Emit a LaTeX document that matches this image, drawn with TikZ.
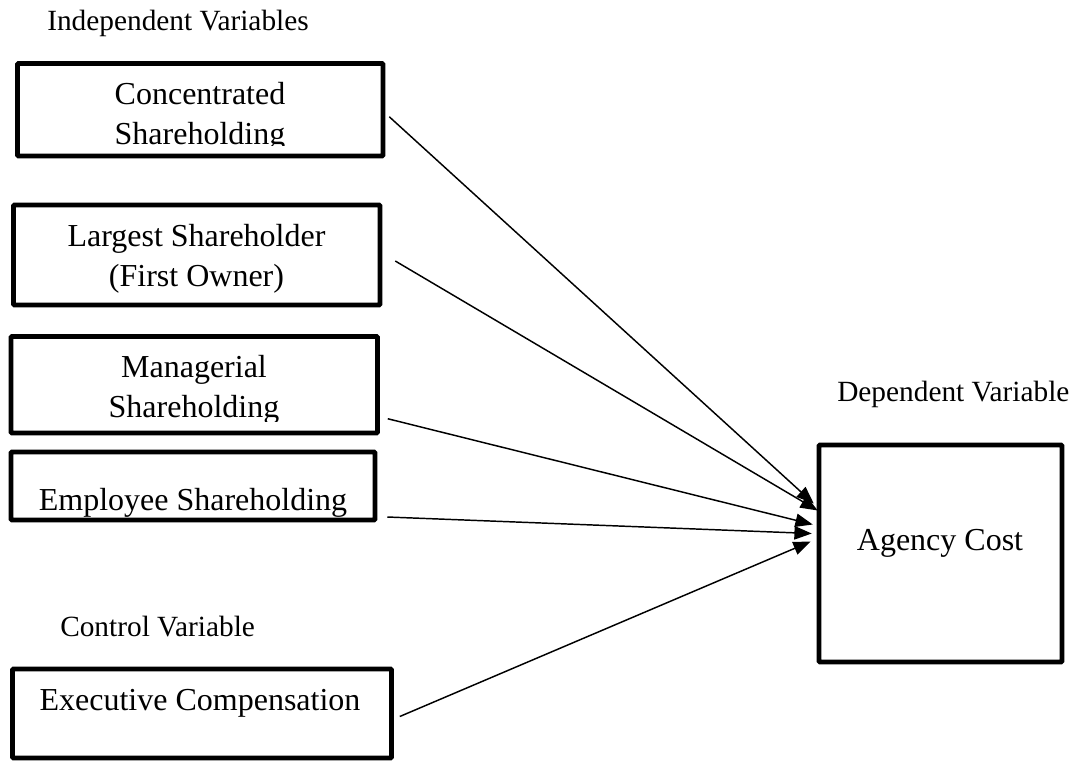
\documentclass[tikz,border=0pt]{standalone}
\usepackage{fontspec}
\setmainfont{Liberation Serif}
\usetikzlibrary{fit,arrows.meta}
\begin{document}
\begin{tikzpicture}[x=0.75pt,y=-0.75pt,
  varbox/.style={draw=black,line width=3.4pt,inner sep=0pt,rounded corners=0.6pt},
  boxtext/.style={font=\fontsize{24}{30}\selectfont,anchor=base,inner sep=0pt},
  labeltext/.style={font=\fontsize{22}{27}\selectfont,anchor=base west,inner sep=0pt},
  link/.style={line width=1.1pt,-{Triangle[length=13pt,width=10pt]}}]
\useasboundingbox (0,0) rectangle (1074,761);

% labels
\node[labeltext] (lind) at (47,30) {Independent Variables};
\node[labeltext] (lctl) at (60,636) {Control Variable};
\node[labeltext] (ldep) at (837,401) {Dependent Variable};

% boxes
\node[varbox,fit={(17.5,63.5) (383,156)}] (b1) {};
\node[varbox,fit={(13.5,205) (380,305)}] (b2) {};
\node[varbox,fit={(11,336.5) (377.5,433)}] (b3) {};
\node[varbox,fit={(11,452) (375,520)}] (b4) {};
\node[varbox,fit={(12.5,669) (391.5,758)}] (b5) {};
\node[varbox,fit={(819,445) (1062,662)}] (ac) {};

% box texts
\begin{scope}
  \clip (20,66) rectangle (380,145);
  \node[boxtext] (t1a) at (200,104) {Concentrated};
  \node[boxtext] (t1b) at (200,144) {Shareholding};
\end{scope}
\node[boxtext] (t2a) at (196.5,246) {Largest Shareholder};
\node[boxtext] (t2b) at (196.5,286) {(First Owner)};
\begin{scope}
  \clip (14,339) rectangle (375,421);
  \node[boxtext] (t3a) at (194,377) {Managerial};
  \node[boxtext] (t3b) at (194,417) {Shareholding};
\end{scope}
\node[boxtext] (t4) at (193,510) {Employee Shareholding};
\node[boxtext] (t5) at (200,710) {Executive Compensation};
\node[boxtext] (tac) at (940,550) {Agency Cost};

% connectors
\draw[link] ([shift={(4,7)}]b1.east) -- ([shift={(-3,-50)}]ac.west);
\draw[link] ([shift={(13,6)}]b2.east) -- ([shift={(1,-43)}]ac.west);
\draw[link] ([shift={(8,34)}]b3.east) -- ([shift={(-4,-29)}]ac.west);
\draw[link] ([shift={(10,31)}]b4.east) -- ([shift={(-5,-20)}]ac.west);
\draw[link] ([shift={(6,3)}]b5.east) -- ([shift={(-6,-12)}]ac.west);
\end{tikzpicture}
\end{document}
